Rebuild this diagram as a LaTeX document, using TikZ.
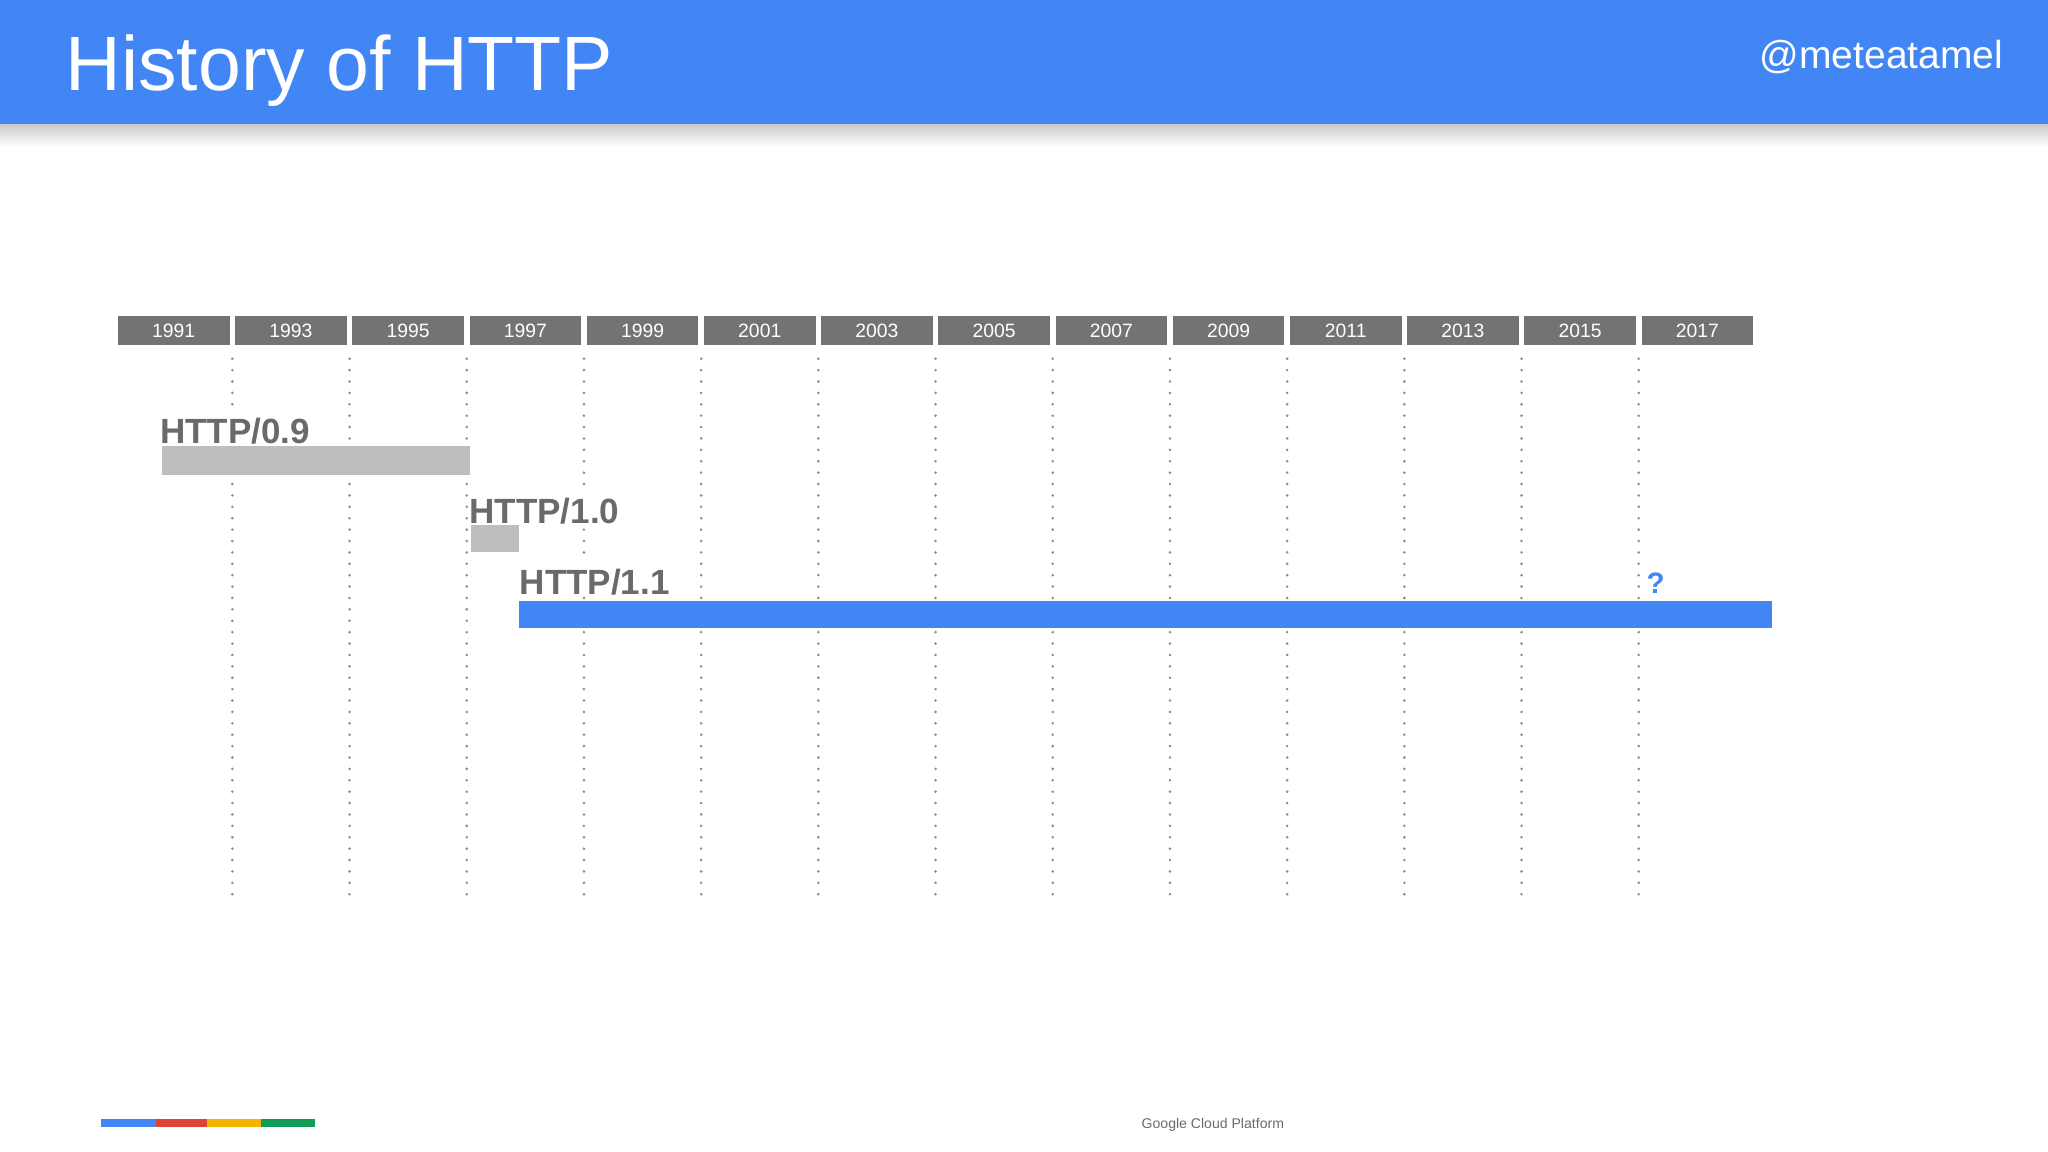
\documentclass[tikz,border=0pt]{standalone}
\usepackage{fontspec}
\setmainfont{Liberation Sans}
\usepackage{xcolor}
\usetikzlibrary{positioning, calc}
\definecolor{httpBlue}{HTML}{4285F4}
\definecolor{httpBox}{HTML}{747275}
\definecolor{httpBar}{HTML}{BFBDC0}
\definecolor{httpText}{HTML}{6A6A6A}
\definecolor{httpDot}{HTML}{8A8A8A}
\definecolor{gcpRed}{HTML}{DB4437}
\definecolor{gcpYellow}{HTML}{F4B400}
\definecolor{gcpGreen}{HTML}{0F9D58}

\begin{document}
\begin{tikzpicture}[
        x=0.01cm, y=-0.01cm,
        yearbox/.style={rectangle, fill=httpBox, text=white, inner sep=0pt, minimum width=1.115cm, minimum height=0.29cm, font=\fontsize{5.5}{6}\selectfont},
        guide/.style={draw=httpDot, line width=0.8pt, line cap=round, dash pattern=on 0pt off 3.24pt},
        bar/.style={rectangle, inner sep=0pt, anchor=north west},
        version/.style={anchor=base west, fill=white, inner xsep=0pt, inner ysep=0pt, text height=0.95em, text depth=0pt, text=httpText, font=\fontsize{9.96}{12}\selectfont\bfseries}
    ]
        \useasboundingbox (0,0) rectangle (2048,1152);

        % --- Header ---
        \fill[httpBlue] (0,0) rectangle (2048,125);
        \shade[top color=black!20, bottom color=white] (0,125) rectangle (2048,147);
        \node[anchor=base west, inner sep=0pt, text=white, font=\fontsize{21.9}{26}\selectfont] (title) at (65,91) {History of HTTP};
        \node[anchor=base east, inner sep=0pt, text=white, font=\fontsize{11.1}{13}\selectfont] (handle) at (2004,69) {@meteatamel};

        % --- Year axis ---
        \foreach \yr [count=\i from 0] in {1991,1993,...,2017}
            \node[yearbox] (y\yr) at ({173.75+117.2*\i},330.5) {\yr};
        \foreach \yr [evaluate=\yr as \nx using int(\yr+2)] in {1991,1993,...,2015}
            \draw[guide] ($(y\yr.south east)!.5!(y\nx.south west)$) ++(0,13) -- ++(0,537);

        % --- Versions ---
        \node[bar, fill=httpBar, minimum width=3.075cm, minimum height=0.283cm] (b09) at (161.5,445.7) {};
        \node[bar, fill=httpBar, minimum width=0.476cm, minimum height=0.277cm] (b10) at (470.4,524) {};
        \node[bar, fill=httpBlue, minimum width=12.527cm, minimum height=0.27cm] (b11) at (518.3,600.7) {};
        \node[version, xshift=-0.6pt, yshift=0.7pt] (l09) at (b09.north west) {HTTP/0.9};
        \node[version, xshift=-0.5pt, yshift=0.2pt] (l10) at (b10.north west) {HTTP/1.0};
        \node[version, xshift=0.2pt, yshift=1.8pt] (l11) at (b11.north west) {HTTP/1.1};
        \node[anchor=base west, inner sep=0pt, text=httpBlue, font=\fontsize{8.4}{10}\selectfont\bfseries] (q11) at (1646,593.3) {?};

        % --- Footer ---
        \fill[httpBlue]  (100.7,1119.3) rectangle (155.7,1127.3);
        \fill[gcpRed]    (155.7,1119.3) rectangle (207.3,1127.3);
        \fill[gcpYellow] (207.3,1119.3) rectangle (261,1127.3);
        \fill[gcpGreen]  (261,1119.3) rectangle (315,1127.3);
        \node[anchor=base west, inner sep=0pt, text=httpText, font=\fontsize{4}{5}\selectfont] (gcp) at (1141,1128.3) {Google Cloud Platform};
    \end{tikzpicture}
\end{document}
